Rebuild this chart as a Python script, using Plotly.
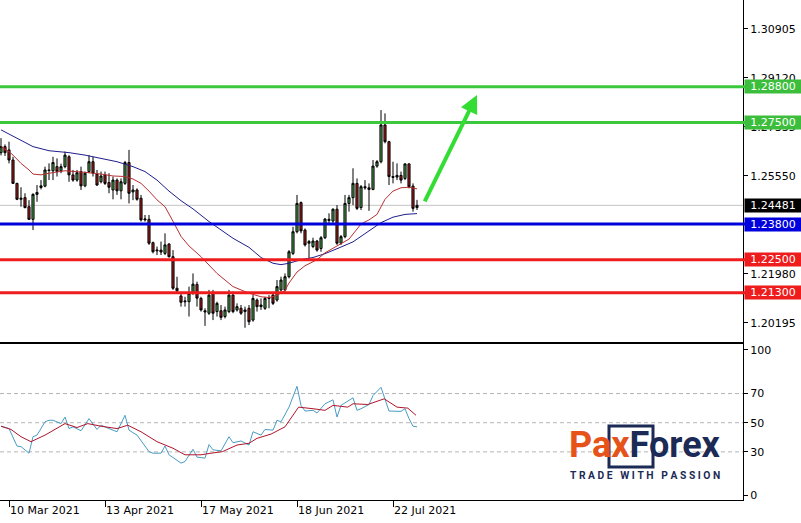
import plotly.graph_objects as go

# ---------------- data ----------------
bar_idx = list(range(105))
open_ = [1.2640, 1.2662, 1.2650, 1.2613, 1.2528, 1.2470, 1.2476, 1.2443, 1.2397, 1.2488,
         1.2513, 1.2518, 1.2577, 1.2574, 1.2589, 1.2574, 1.2589, 1.2625, 1.2559, 1.2540,
         1.2571, 1.2519, 1.2571, 1.2607, 1.2562, 1.2534, 1.2559, 1.2531, 1.2504, 1.2540,
         1.2501, 1.2528, 1.2604, 1.2497, 1.2504, 1.2474, 1.2395, 1.2397, 1.2312, 1.2282,
         1.2285, 1.2273, 1.2307, 1.2261, 1.2146, 1.2118, 1.2100, 1.2097, 1.2127, 1.2160,
         1.2109, 1.2064, 1.2055, 1.2128, 1.2061, 1.2064, 1.2043, 1.2061, 1.2121, 1.2067,
         1.2073, 1.2061, 1.2073, 1.2030, 1.2103, 1.2079, 1.2073, 1.2109, 1.2121, 1.2103,
         1.2140, 1.2140, 1.2188, 1.2273, 1.2352, 1.2458, 1.2358, 1.2310, 1.2298, 1.2318,
         1.2291, 1.2330, 1.2393, 1.2391, 1.2434, 1.2310, 1.2334, 1.2455, 1.2476, 1.2528,
         1.2440, 1.2516, 1.2512, 1.2506, 1.2591, 1.2607, 1.2741, 1.2680, 1.2553, 1.2551,
         1.2557, 1.2546, 1.2599, 1.2518, 1.2440]
high = [1.2693, 1.2670, 1.2680, 1.2625, 1.2530, 1.2514, 1.2492, 1.2467, 1.2492, 1.2522,
        1.2540, 1.2589, 1.2601, 1.2625, 1.2619, 1.2600, 1.2644, 1.2631, 1.2577, 1.2577,
        1.2589, 1.2571, 1.2631, 1.2625, 1.2577, 1.2571, 1.2571, 1.2565, 1.2553, 1.2546,
        1.2546, 1.2610, 1.2650, 1.2522, 1.2510, 1.2486, 1.2413, 1.2413, 1.2316, 1.2298,
        1.2316, 1.2346, 1.2310, 1.2285, 1.2188, 1.2128, 1.2115, 1.2152, 1.2200, 1.2170,
        1.2115, 1.2073, 1.2140, 1.2140, 1.2097, 1.2085, 1.2079, 1.2140, 1.2134, 1.2091,
        1.2085, 1.2079, 1.2085, 1.2121, 1.2109, 1.2109, 1.2115, 1.2121, 1.2128, 1.2176,
        1.2188, 1.2200, 1.2285, 1.2370, 1.2486, 1.2462, 1.2364, 1.2322, 1.2330, 1.2322,
        1.2336, 1.2402, 1.2419, 1.2437, 1.2449, 1.2340, 1.2486, 1.2486, 1.2583, 1.2546,
        1.2522, 1.2540, 1.2528, 1.2613, 1.2613, 1.2795, 1.2783, 1.2683, 1.2607, 1.2601,
        1.2571, 1.2601, 1.2601, 1.2528, 1.2468]
low = [1.2630, 1.2628, 1.2601, 1.2526, 1.2467, 1.2443, 1.2437, 1.2395, 1.2358, 1.2461,
       1.2506, 1.2514, 1.2540, 1.2540, 1.2553, 1.2565, 1.2583, 1.2534, 1.2534, 1.2534,
       1.2504, 1.2514, 1.2565, 1.2553, 1.2519, 1.2528, 1.2522, 1.2492, 1.2470, 1.2486,
       1.2470, 1.2522, 1.2455, 1.2467, 1.2465, 1.2389, 1.2389, 1.2304, 1.2273, 1.2267,
       1.2267, 1.2267, 1.2258, 1.2140, 1.2128, 1.2079, 1.2079, 1.2043, 1.2122, 1.2079,
       1.2061, 1.2009, 1.2049, 1.2030, 1.2043, 1.2030, 1.2036, 1.2055, 1.2055, 1.2061,
       1.2049, 1.2002, 1.2012, 1.2024, 1.2061, 1.2067, 1.2067, 1.2073, 1.2085, 1.2097,
       1.2134, 1.2134, 1.2182, 1.2267, 1.2346, 1.2346, 1.2298, 1.2255, 1.2292, 1.2279,
       1.2279, 1.2325, 1.2376, 1.2383, 1.2304, 1.2304, 1.2328, 1.2425, 1.2449, 1.2431,
       1.2431, 1.2505, 1.2428, 1.2503, 1.2585, 1.2601, 1.2674, 1.2522, 1.2528, 1.2540,
       1.2528, 1.2540, 1.2510, 1.2425, 1.2431]
close = [1.2662, 1.2640, 1.2613, 1.2528, 1.2470, 1.2474, 1.2440, 1.2397, 1.2488, 1.2495,
         1.2519, 1.2577, 1.2575, 1.2604, 1.2571, 1.2589, 1.2631, 1.2559, 1.2540, 1.2567,
         1.2519, 1.2565, 1.2607, 1.2565, 1.2522, 1.2555, 1.2528, 1.2514, 1.2540, 1.2501,
         1.2534, 1.2604, 1.2492, 1.2504, 1.2470, 1.2395, 1.2398, 1.2310, 1.2279, 1.2285,
         1.2278, 1.2304, 1.2261, 1.2146, 1.2137, 1.2095, 1.2097, 1.2127, 1.2161, 1.2110,
         1.2067, 1.2060, 1.2121, 1.2055, 1.2091, 1.2040, 1.2067, 1.2121, 1.2061, 1.2079,
         1.2055, 1.2067, 1.2024, 1.2109, 1.2079, 1.2085, 1.2109, 1.2112, 1.2091, 1.2152,
         1.2176, 1.2188, 1.2279, 1.2352, 1.2455, 1.2355, 1.2304, 1.2316, 1.2318, 1.2285,
         1.2330, 1.2398, 1.2397, 1.2434, 1.2310, 1.2334, 1.2455, 1.2476, 1.2528, 1.2437,
         1.2516, 1.2512, 1.2506, 1.2591, 1.2607, 1.2741, 1.2680, 1.2553, 1.2550, 1.2557,
         1.2540, 1.2599, 1.2516, 1.2437, 1.24481]

ma_red_idx = [0, 2, 3, 5, 7, 8, 10, 12, 16, 19, 22, 25, 28, 31, 33, 35, 37, 39, 41, 43,
              45, 47, 50, 54, 58, 62, 65, 67, 69, 71, 72, 74, 76, 79, 81, 84, 87, 90, 92,
              94, 96, 98, 100, 102, 104]
ma_red_val = [1.2662, 1.2644, 1.2631, 1.2601, 1.2577, 1.2562, 1.2559, 1.2565, 1.2574, 1.2571,
              1.2567, 1.2562, 1.2555, 1.2553, 1.2544, 1.2528, 1.2500, 1.2468, 1.2443, 1.2390,
              1.2335, 1.2300, 1.2261, 1.2200, 1.2152, 1.2128, 1.2115, 1.2112, 1.2120, 1.2138,
              1.2165, 1.2205, 1.2228, 1.2250, 1.2275, 1.2300, 1.2325, 1.2380, 1.2395, 1.2415,
              1.2470, 1.2500, 1.2512, 1.2514, 1.2508]

ma_blue_idx = [0, 4, 8, 12, 17, 21, 25, 29, 33, 36, 39, 42, 45, 48, 52, 55, 58, 62, 65, 68,
               70, 72, 75, 78, 81, 84, 88, 92, 95, 98, 101, 104]
ma_blue_val = [1.2723, 1.2692, 1.2662, 1.2647, 1.2640, 1.2631, 1.2619, 1.2607, 1.2589, 1.2571,
               1.2540, 1.2500, 1.2465, 1.2435, 1.2389, 1.2358, 1.2328, 1.2295, 1.2258, 1.2237,
               1.2232, 1.2237, 1.2250, 1.2258, 1.2272, 1.2290, 1.2315, 1.2355, 1.2385, 1.2405,
               1.2415, 1.2418]

osc_idx = [0, 2, 4, 5, 7, 8, 9, 11, 12, 13, 15, 16, 17, 18, 20, 22, 24, 25, 27, 29, 31, 32,
           34, 37, 38, 40, 41, 42, 45, 46, 48, 49, 51, 52, 53, 55, 57, 58, 60, 62, 63, 65,
           66, 68, 69, 70, 72, 74, 75, 76, 78, 79, 81, 83, 84, 85, 88, 89, 90, 92, 93, 95,
           97, 100, 101, 102, 103, 104]
osc_val = [47.6, 46.0, 34.0, 33.6, 29.1, 40.4, 41.5, 50.6, 51.7, 51.7, 49.4, 53.9, 46.0, 47.2,
           44.5, 52.8, 45.4, 48.3, 46.0, 43.8, 55.1, 44.9, 41.5, 30.2, 29.1, 29.1, 34.1, 28.0,
           22.3, 23.4, 31.8, 26.4, 25.7, 35.0, 31.4, 30.7, 40.4, 36.3, 37.5, 34.7, 43.8, 41.5,
           45.4, 44.9, 51.7, 50.6, 60.7, 75.0, 61.9, 58.0, 58.5, 56.7, 63.0, 65.7, 53.9, 61.9,
           67.1, 58.5, 59.6, 62.5, 68.6, 74.3, 58.0, 57.8, 59.6, 52.8, 47.6, 47.2]

sig_idx = [0, 2.5, 5, 7.5, 11, 14, 16, 19, 21.7, 25, 29, 31.7, 35, 39, 43, 46, 50, 52.5, 55.4,
           59, 62, 64, 67.5, 71, 74.4, 78, 81, 83, 86.7, 88, 91.7, 95.8, 99, 101.7, 103.75]
sig_val = [47.6, 45.4, 40.4, 37.0, 41.5, 46.0, 49.4, 46.7, 49.4, 47.6, 46.0, 48.3, 43.8, 37.0,
           32.5, 28.0, 28.0, 29.1, 30.2, 34.7, 35.9, 39.3, 42.2, 47.2, 60.7, 59.6, 58.5, 61.9,
           60.7, 63.0, 62.5, 66.4, 60.7, 60.0, 55.1]

green_levels = [1.2880, 1.2750]
blue_levels = [1.2380]
red_levels = [1.2250, 1.2130]
last_price = 1.24481

price_ticks = [1.30905, 1.29120, 1.27335, 1.25550, 1.23765, 1.21980, 1.20195]
osc_ticks = [100, 70, 50, 30, 0]
osc_levels = [70, 50, 30]
date_tick_idx = [2, 26, 50, 74, 98]
date_tick_text = ["10 Mar 2021", "13 Apr 2021", "17 May 2021", "18 Jun 2021", "22 Jul 2021"]

arrow_tail = (105.75, 1.2457)
arrow_tip = (119.0, 1.2850)

# ---------------- styles ----------------
FONT = "DejaVu Sans"
GREEN = "#3cc83c"
BLUE = "#0000dc"
RED = "#ee1c1c"
NAVY = "#1c2a56"
ORANGE = "#e5531a"

fig = go.Figure()

fig.add_trace(go.Candlestick(
    x=bar_idx, open=open_, high=high, low=low, close=close,
    increasing=dict(line=dict(color="black", width=1), fillcolor="#4e9e4e"),
    decreasing=dict(line=dict(color="black", width=1), fillcolor="#a3201e"),
    whiskerwidth=0, showlegend=False, hoverinfo="skip", xaxis="x", yaxis="y"))

fig.add_trace(go.Scatter(x=ma_blue_idx, y=ma_blue_val, mode="lines",
                         line=dict(color="#1e1e8c", width=1), showlegend=False,
                         hoverinfo="skip", xaxis="x", yaxis="y"))
fig.add_trace(go.Scatter(x=ma_red_idx, y=ma_red_val, mode="lines",
                         line=dict(color="#b83030", width=1), showlegend=False,
                         hoverinfo="skip", xaxis="x", yaxis="y"))

fig.add_trace(go.Scatter(x=osc_idx, y=osc_val, mode="lines",
                         line=dict(color="#4a9cc4", width=1), showlegend=False,
                         hoverinfo="skip", xaxis="x2", yaxis="y2"))
fig.add_trace(go.Scatter(x=sig_idx, y=sig_val, mode="lines",
                         line=dict(color="#b0142c", width=1), showlegend=False,
                         hoverinfo="skip", xaxis="x2", yaxis="y2"))

shapes = []
shapes.append(dict(type="line", xref="paper", x0=0, x1=1, yref="y", y0=last_price, y1=last_price,
                   line=dict(color="#c4c4c4", width=1), layer="below"))
for lv in green_levels:
    shapes.append(dict(type="line", xref="paper", x0=0, x1=1.004, yref="y", y0=lv, y1=lv,
                       line=dict(color=GREEN, width=3)))
for lv in blue_levels:
    shapes.append(dict(type="line", xref="paper", x0=0, x1=1.004, yref="y", y0=lv, y1=lv,
                       line=dict(color=BLUE, width=3)))
for lv in red_levels:
    shapes.append(dict(type="line", xref="paper", x0=0, x1=1.004, yref="y", y0=lv, y1=lv,
                       line=dict(color=RED, width=3)))
for lv in osc_levels:
    shapes.append(dict(type="line", xref="paper", x0=0, x1=1, yref="y2", y0=lv, y1=lv,
                       line=dict(color="#b4b4b4", width=1, dash="4px,3px"), layer="below"))
# logo frame around "xF"
shapes.append(dict(type="rect", xref="paper", yref="paper",
                   x0=609 / 743, x1=653 / 743, y0=(500 - 467) / 500, y1=(500 - 426) / 500,
                   line=dict(color=NAVY, width=3)))

annotations = []


def value_box(val, color):
    return dict(x=1, xref="paper", xanchor="left", xshift=1, y=val, yref="y",
                yanchor="middle", text=f"{val:.5f}", showarrow=False, bgcolor=color,
                width=56, height=13, borderpad=0,
                font=dict(family=FONT, size=11, color="white"))


for lv in green_levels:
    annotations.append(value_box(lv, "#3cbe3c"))
annotations.append(value_box(last_price, "black"))
for lv in blue_levels:
    annotations.append(value_box(lv, BLUE))
for lv in red_levels:
    annotations.append(value_box(lv, RED))

annotations.append(dict(x=arrow_tip[0], y=arrow_tip[1], xref="x", yref="y",
                        ax=arrow_tail[0], ay=arrow_tail[1], axref="x", ayref="y",
                        showarrow=True, arrowhead=2, arrowsize=0.9, arrowwidth=4,
                        arrowcolor="#33dd33", text="", standoff=0, startstandoff=0))

annotations.append(dict(x=645 / 743, y=(500 - 445) / 500, xref="paper", yref="paper",
                        xanchor="center", yanchor="middle",
                        text=f'<b><span style="color:{ORANGE}">Pax</span>'
                             f'<span style="color:{NAVY}">Forex</span></b>',
                        showarrow=False, font=dict(family="Roboto", size=36, color=NAVY)))
slog = "\u00a0\u00a0\u00a0".join("\u00a0".join(w) for w in ["TRADE", "WITH", "PASSION"])
annotations.append(dict(x=645 / 743, y=(500 - 475) / 500, xref="paper", yref="paper",
                        xanchor="center", yanchor="middle",
                        text=f"<b>{slog}</b>", showarrow=False,
                        font=dict(family="Roboto", size=10.3, color=NAVY)))

axis_common = dict(showgrid=False, zeroline=False, showline=True, linecolor="black",
                   linewidth=1, tickcolor="black", automargin=False,
                   tickfont=dict(family=FONT, size=11, color="black"))

fig.update_layout(
    width=801, height=523,
    margin=dict(l=0, r=58, t=0, b=23, autoexpand=False),
    paper_bgcolor="white", plot_bgcolor="white",
    boxgap=0.25,
    showlegend=False,
    hovermode=False,
    shapes=shapes, annotations=annotations,
    xaxis=dict(domain=[0, 1], anchor="y", range=[-0.25, 185.5], showticklabels=False,
               ticks="", rangeslider=dict(visible=False), **axis_common),
    xaxis2=dict(domain=[0, 1], anchor="y2", range=[-0.25, 185.5], matches="x",
                tickvals=date_tick_idx, ticktext=date_tick_text, ticks="outside", ticklen=6,
                ticklabelposition="outside right", mirror=True, **axis_common),
    yaxis=dict(domain=[0.316, 1], anchor="x", side="right", range=[1.19502, 1.31961],
               tickvals=price_ticks, ticktext=[f"{v:.5f}" for v in price_ticks],
               ticks="outside", ticklen=4, **axis_common),
    yaxis2=dict(domain=[0, 0.312], anchor="x2", side="right", range=[-3, 104],
                tickvals=osc_ticks, ticktext=[str(v) for v in osc_ticks],
                ticks="outside", ticklen=4, **axis_common),
)

fig.write_html("out.html",
               config={"displayModeBar": False, "staticPlot": True},
               post_script="document.body.style.margin='0';"
                           "document.body.style.overflow='hidden';")
